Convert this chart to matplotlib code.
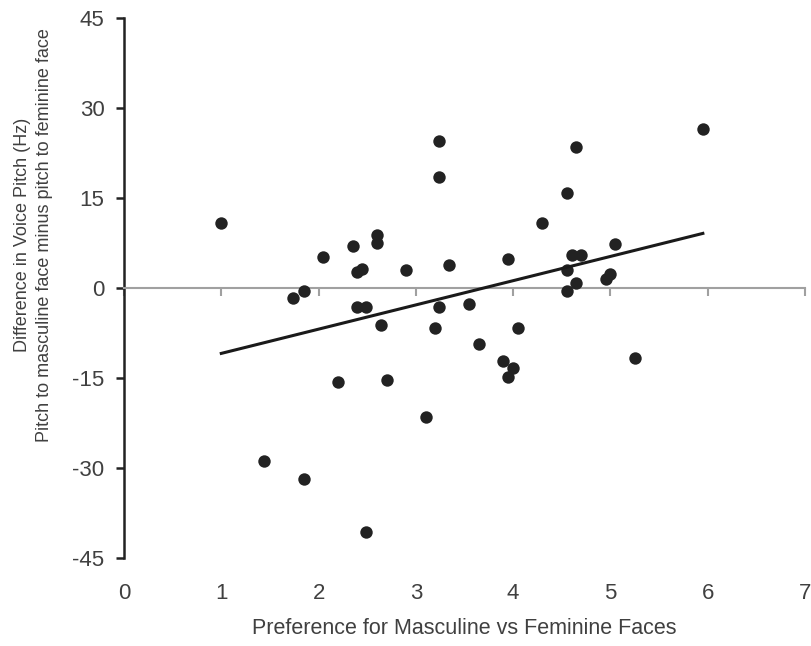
import matplotlib
matplotlib.use("Agg")
import matplotlib.pyplot as plt
import numpy as np

plt.rcParams['font.family'] = ['Liberation Sans', 'DejaVu Sans']

# Data
preference = [1.00, 1.44, 1.74, 1.85, 1.85, 2.05, 2.20, 2.35, 2.39, 2.45,
              2.39, 2.49, 2.49, 2.60, 2.60, 2.64, 2.70, 2.90, 3.10, 3.20,
              3.24, 3.24, 3.24, 3.34, 3.55, 3.65, 3.90, 4.00, 3.95, 4.05,
              3.95, 4.30, 4.55, 4.55, 4.55, 4.60, 4.65, 4.65, 4.70, 4.95,
              5.00, 5.05, 5.25, 5.95]
pitch_diff = [10.9, -28.9, -1.6, -0.45, -31.9, 5.1, -15.7, 7.05, 2.67, 3.17,
              -3.2, -3.2, -40.7, 8.8, 7.55, -6.2, -15.3, 3.0, -21.5, -6.7,
              -3.2, 24.5, 18.55, 3.9, -2.7, -9.3, -12.1, -13.3, -14.9, -6.7,
              4.9, 10.8, 15.8, 3.0, -0.45, 5.5, 23.55, 0.9, 5.5, 1.5,
              2.4, 7.3, -11.7, 26.55]
trend_x = [1.0, 5.95]
trend_y = [-10.9, 9.1]

x_ticks = [0, 1, 2, 3, 4, 5, 6, 7]
y_ticks = [-45, -30, -15, 0, 15, 30, 45]

text_color = '#404040'

fig = plt.figure(figsize=(8.11, 6.46), dpi=100)
ax = fig.add_axes([124/811, 1-558/646, (805-124)/811, 540/646])

ax.scatter(preference, pitch_diff, s=80, color='#222222', zorder=3, linewidths=0)
ax.plot(trend_x, trend_y, color='#1a1a1a', lw=2.2, zorder=4)

ax.set_xlim(0, 7)
ax.set_ylim(-45, 45)

# spines
for s in ['top', 'right']:
    ax.spines[s].set_visible(False)
ax.spines['left'].set_color('#222222')
ax.spines['left'].set_linewidth(1.8)
ax.spines['bottom'].set_position(('data', 0))
ax.spines['bottom'].set_color('#a0a0a0')
ax.spines['bottom'].set_linewidth(1.5)

ax.set_yticks(y_ticks)
ax.set_yticklabels([str(v) for v in y_ticks])
ax.tick_params(axis='y', direction='out', length=6, width=1.8, color='#222222',
               labelsize=16, labelcolor=text_color, pad=8)

ax.set_xticks(x_ticks)
ax.tick_params(axis='x', direction='out', length=6, width=1.5, color='#a0a0a0',
               labelbottom=False)

secax = ax.secondary_xaxis('bottom')
secax.set_xticks(x_ticks)
secax.set_xticklabels([str(v) for v in x_ticks])
secax.spines['bottom'].set_visible(False)
secax.tick_params(axis='x', length=0, labelsize=16, labelcolor=text_color, pad=18)
secax.set_xlabel('Preference for Masculine vs Feminine Faces', fontsize=15.5,
                 color=text_color, labelpad=10)

fig.text(33.5/811, 1-235/646,
         'Difference in Voice Pitch (Hz)\nPitch to masculine face minus pitch to feminine face',
         rotation=90, ha='center', va='center', multialignment='center',
         fontsize=13, color=text_color, linespacing=1.34)

fig.savefig('out.png', dpi=100, facecolor='white')
